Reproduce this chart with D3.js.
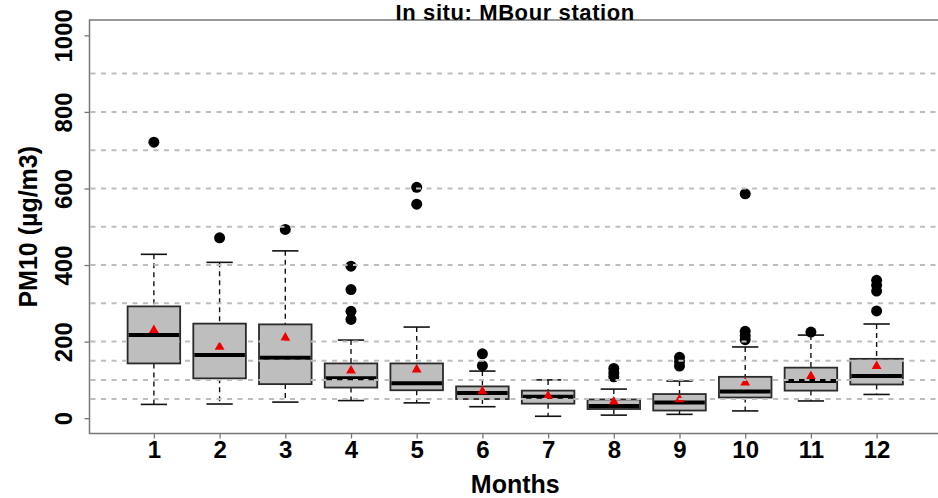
<!DOCTYPE html>
<html>
<head>
<meta charset="utf-8">
<script src="https://cdn.jsdelivr.net/npm/d3@7"></script>
<style>
  html, body { margin: 0; padding: 0; background: #fff; }
  svg { display: block; font-family: "Liberation Sans", Arial, Helvetica, sans-serif; }
</style>
</head>
<body>
<svg id="chart" width="938" height="498"></svg>
<script>
// Monthly PM10 distribution, MBour station
const months        = [1, 2, 3, 4, 5, 6, 7, 8, 9, 10, 11, 12];
const lowerWhisker  = [36, 37, 42, 46, 40, 30, 5, 8, 10, 19, 45, 62];
const q1            = [143, 104, 89, 80, 73, 50, 38, 24, 20, 54, 72, 88];
const medians       = [217, 165, 158, 104, 91, 66, 56, 32, 41, 70, 97, 110];
const q3            = [292, 247, 245, 143, 143, 83, 72, 49, 63, 108, 132, 155];
const upperWhisker  = [428, 407, 437, 204, 238, 123, 100, 76, 97, 186, 217, 246];
const means         = [230, 186, 210, 124, 127, 70, 58, 43, 49, 93, 110, 136];
const outliers      = [[721], [471], [493], [397, 336, 279, 258], [603, 559], [168, 137], [],
                       [130, 118, 108], [159, 148, 136], [586, 227, 215, 205], [225], [360, 347, 332, 280]];
const yTicks        = [0, 200, 400, 600, 800, 1000];
const gridValues    = [50, 100, 150, 200, 300, 400, 500, 600, 700, 800, 900];

const titleText = "In situ: MBour station";
const xTitle = "Months";
const yTitle = "PM10 (µg/m3)";

const svg = d3.select("#chart");
const frame = { left: 89.5, right: 941, top: 20, bottom: 433.5 };

// R-style limits: data range padded by 4%
const x = d3.scaleLinear().domain([0.02, 12.98]).range([frame.left, frame.right]);
const y = d3.scaleLinear().domain([-40, 1040]).range([frame.bottom, frame.top]);

const unit = x(1) - x(0);
const boxW = 0.8 * unit;
const capW = 0.5 * boxW;

const g = svg.append("g");

// boxes
const boxes = g.selectAll("g.box").data(months).enter().append("g").attr("class", "box");

// whiskers (dashed)
boxes.append("line")
  .attr("x1", (d) => x(d)).attr("x2", (d) => x(d))
  .attr("y1", (d, i) => y(upperWhisker[i])).attr("y2", (d, i) => y(q3[i]))
  .attr("stroke", "#111").attr("stroke-width", 1.4).attr("stroke-dasharray", "5,4");
boxes.append("line")
  .attr("x1", (d) => x(d)).attr("x2", (d) => x(d))
  .attr("y1", (d, i) => y(q1[i])).attr("y2", (d, i) => y(lowerWhisker[i]))
  .attr("stroke", "#111").attr("stroke-width", 1.4).attr("stroke-dasharray", "5,4");

// staples
boxes.append("line")
  .attr("x1", (d) => x(d) - capW / 2).attr("x2", (d) => x(d) + capW / 2)
  .attr("y1", (d, i) => y(upperWhisker[i])).attr("y2", (d, i) => y(upperWhisker[i]))
  .attr("stroke", "#111").attr("stroke-width", 1.6);
boxes.append("line")
  .attr("x1", (d) => x(d) - capW / 2).attr("x2", (d) => x(d) + capW / 2)
  .attr("y1", (d, i) => y(lowerWhisker[i])).attr("y2", (d, i) => y(lowerWhisker[i]))
  .attr("stroke", "#111").attr("stroke-width", 1.6);

// interquartile box
boxes.append("rect")
  .attr("x", (d) => x(d) - boxW / 2).attr("width", boxW)
  .attr("y", (d, i) => y(q3[i])).attr("height", (d, i) => y(q1[i]) - y(q3[i]))
  .attr("fill", "#bebebe").attr("stroke", "#2a2a2a").attr("stroke-width", 1.8);

// median
boxes.append("line")
  .attr("x1", (d) => x(d) - boxW / 2 + 1).attr("x2", (d) => x(d) + boxW / 2 - 1)
  .attr("y1", (d, i) => y(medians[i])).attr("y2", (d, i) => y(medians[i]))
  .attr("stroke", "#000").attr("stroke-width", 4);

// outliers
months.forEach((m, i) => {
  g.selectAll(null).data(outliers[i]).enter().append("circle")
    .attr("cx", x(m)).attr("cy", (v) => y(v)).attr("r", 5.5).attr("fill", "#000");
});

// means
g.selectAll("path.mean").data(months).enter().append("path")
  .attr("class", "mean")
  .attr("d", d3.symbol().type(d3.symbolTriangle).size(42))
  .attr("transform", (d, i) => `translate(${x(d)},${y(means[i])})`)
  .attr("fill", "#ee0000");

// reference lines drawn over the boxes
g.selectAll("line.grid").data(gridValues).enter().append("line")
  .attr("class", "grid")
  .attr("x1", frame.left + 1).attr("x2", frame.right)
  .attr("y1", (v) => y(v)).attr("y2", (v) => y(v))
  .attr("stroke", "#bdbdbd").attr("stroke-width", 2).attr("stroke-dasharray", "5,5.5");

// frame
svg.append("rect")
  .attr("x", frame.left).attr("y", frame.top)
  .attr("width", frame.right - frame.left).attr("height", frame.bottom - frame.top)
  .attr("fill", "none").attr("stroke", "#777").attr("stroke-width", 1.5);

// y axis
const yAxis = svg.append("g")
  .attr("transform", `translate(${frame.left},0)`)
  .call(d3.axisLeft(y).tickValues(yTicks).tickSize(5).tickPadding(4).tickFormat(d3.format("d")));
yAxis.select(".domain").remove();
yAxis.selectAll(".tick line").attr("stroke", "#777").attr("stroke-width", 1.3);
yAxis.selectAll(".tick text")
  .attr("x", null).attr("dy", null)
  .attr("transform", "translate(-18,0) rotate(-90)")
  .attr("text-anchor", "middle")
  .attr("dy", "0")
  .attr("fill", "#000")
  .style("font-size", "24px").style("font-weight", "bold");

// x axis
const xAxis = svg.append("g")
  .attr("transform", `translate(0,${frame.bottom})`)
  .call(d3.axisBottom(x).tickValues(months).tickSize(5).tickPadding(6).tickFormat(d3.format("d")));
xAxis.select(".domain").remove();
xAxis.selectAll(".tick line").attr("stroke", "#777").attr("stroke-width", 1.3);
xAxis.selectAll(".tick text")
  .attr("y", 24).attr("dy", null)
  .attr("fill", "#000")
  .style("font-size", "24px").style("font-weight", "bold");

// titles
const cx = (frame.left + frame.right) / 2;
svg.append("text")
  .attr("x", cx).attr("y", 19.5).attr("text-anchor", "middle")
  .style("font-size", "22px").style("font-weight", "bold")
  .style("letter-spacing", "0.6px")
  .text(titleText);
svg.append("text")
  .attr("x", cx).attr("y", 493).attr("text-anchor", "middle")
  .style("font-size", "25px").style("font-weight", "bold")
  .text(xTitle);
svg.append("text")
  .attr("transform", `translate(37,${(frame.top + frame.bottom) / 2}) rotate(-90)`)
  .attr("text-anchor", "middle")
  .style("font-size", "25px").style("font-weight", "bold")
  .text(yTitle);
</script>
</body>
</html>
